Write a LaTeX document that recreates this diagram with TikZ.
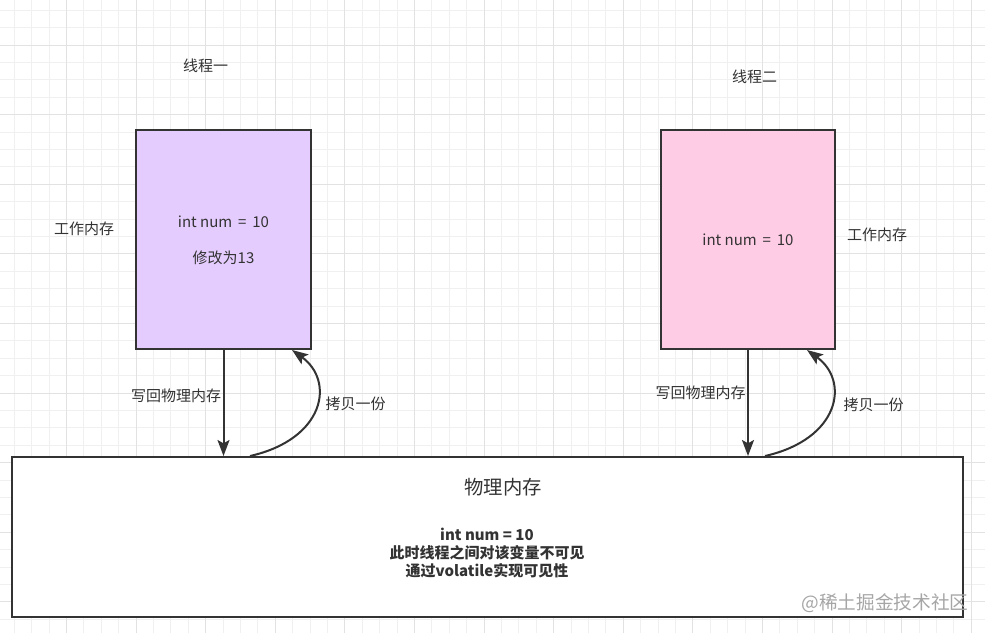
\documentclass[tikz,border=0pt]{standalone}
\usepackage{fontspec}
\setmainfont{Noto Sans CJK SC}
\usetikzlibrary{arrows.meta}
\definecolor{linegray}{HTML}{333333}
\definecolor{textgray}{HTML}{333333}
\definecolor{purplefill}{HTML}{E5CCFF}
\definecolor{pinkfill}{HTML}{FFCCE6}
\definecolor{gridminor}{HTML}{F0F0F0}
\definecolor{gridmajor}{HTML}{E2E2E2}
\begin{document}
\begin{tikzpicture}[x=0.75pt, y=-0.75pt,
  every node/.style={font=\fontsize{11.25}{13.5}\selectfont, text=textgray},
  membox/.style={draw=linegray, line width=1.5pt, minimum height=164.25pt},
  arr/.style={draw=linegray, line width=1.5pt, -{Stealth[length=12pt,width=9pt,inset=2.5pt]}}]
\useasboundingbox (0,0) rectangle (985,633);
\fill[white] (0,0) rectangle (985,633);
% background grid, a major line every four minor ones
\foreach \i in {0,...,55} \draw[gridminor, line width=0.75pt] (14.3+17.4*\i,0) -- (14.3+17.4*\i,633);
\foreach \j in {0,...,35} \draw[gridminor, line width=0.75pt] (0,10.2+17.4*\j) -- (985,10.2+17.4*\j);
\foreach \i in {0,...,13} \draw[gridmajor, line width=0.75pt] (66.5+69.6*\i,0) -- (66.5+69.6*\i,633);
\foreach \j in {0,...,8} \draw[gridmajor, line width=0.75pt] (0,45+69.6*\j) -- (985,45+69.6*\j);
% two working memories and the main memory
\node[membox, fill=purplefill, minimum width=131.25pt] (t1box) at (223.5,239.5) {};
\node[membox, fill=pinkfill, minimum width=130.5pt] (t2box) at (748,239.5) {};
\node[membox, fill=white, minimum width=713.25pt, minimum height=120pt] (mem) at (487.5,537) {};
\node (t1name) at (205.5,66) {线程一};
\node (t2name) at (754.5,77) {线程二};
\node (t1work) at (84,229) {工作内存};
\node (t2work) at (877,235) {工作内存};
\node (t1var) at (223.5,222) {int num \,= \,10};
\node (t1mod) at (223.5,258) {修改为13};
\node (t2var) at (748,240) {int num \,= \,10};
\node[font=\fontsize{14.5}{17}\selectfont] (memname) at (503,487) {物理内存};
\node[font=\bfseries\fontsize{11.25}{13.5}\selectfont, align=center] (memnote) at (487,553)
  {int num = 10\\此时线程之间对该变量不可见\\通过volatile实现可见性};
\node[text=gray!70, font=\fontsize{14}{16}\selectfont] (mark) at (885,603) {@稀土掘金技术社区};
% write back and copy, thread one
\draw[arr] (t1box.south) -- (t1box.south |- mem.north) node[pos=0.43, left, inner sep=1pt] {写回物理内存};
\draw[arr] ([xshift=19.9pt]t1box.south |- mem.north) .. controls +(75,-17) and +(43,31) .. ([xshift=51.4pt]t1box.south);
\node[anchor=west] (t1copy) at (321,404) {拷贝一份};
% write back and copy, thread two
\draw[arr] (t2box.south) -- (t2box.south |- mem.north) node[pos=0.4, left, inner sep=1pt] {写回物理内存};
\draw[arr] ([xshift=12.75pt]t2box.south |- mem.north) .. controls +(75,-17) and +(43,31) .. ([xshift=44.25pt]t2box.south);
\node[anchor=west] (t2copy) at (839,405) {拷贝一份};
\end{tikzpicture}
\end{document}
